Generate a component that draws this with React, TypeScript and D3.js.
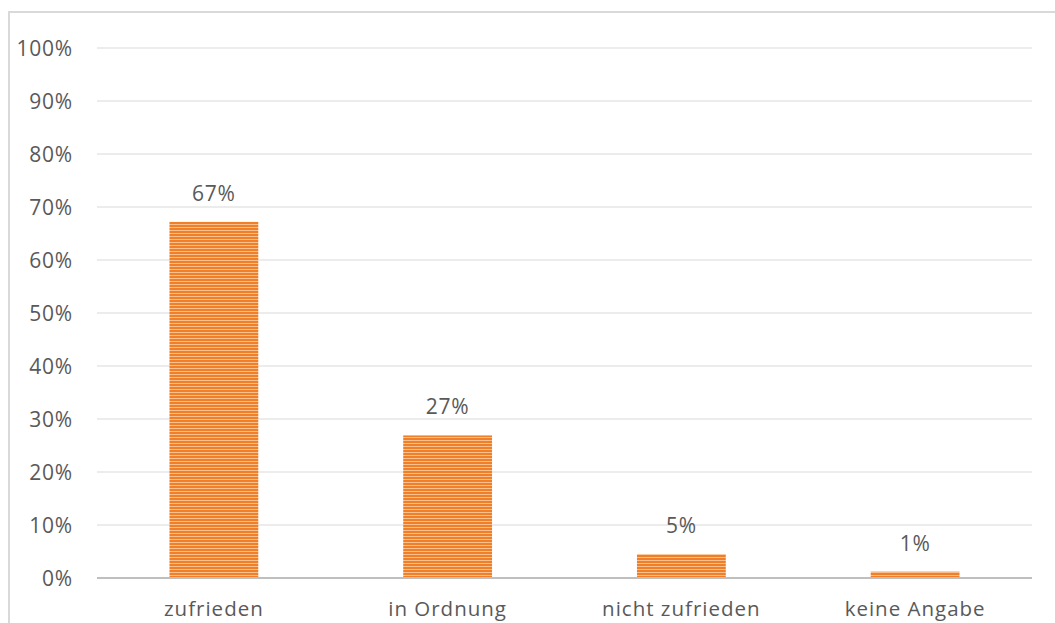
import React from "react";
import * as d3 from "d3";

const categories = ["zufrieden", "in Ordnung", "nicht zufrieden", "keine Angabe"];
const values = [67.2, 26.9, 4.5, 1.2];
const labels = ["67%", "27%", "5%", "1%"];
const yTicks = [0, 10, 20, 30, 40, 50, 60, 70, 80, 90, 100];

export default function App() {
  const W = 1055, H = 623;
  const left = 97, right = 1032, top = 48, bottom = 578;
  const x = d3.scaleBand<string>().domain(categories).range([left, right]).paddingInner(0.62).paddingOuter(0.31);
  const y = d3.scaleLinear().domain([0, 100]).range([bottom, top]);
  const font = "'Open Sans', sans-serif";
  const gray = "#595959";
  return (
    <svg width={W} height={H} style={{ position: "absolute", left: 0, top: 0, background: "#fff" }}>
      <defs>
        <pattern id="stripes" width="6" height="3" patternUnits="userSpaceOnUse">
          <rect width="6" height="3" fill="#F07F2A" />
          <rect y="2" width="6" height="1" fill="#F9C08E" />
        </pattern>
      </defs>
      <rect x={9} y={12} width={W + 20} height={H + 20} fill="#fff" stroke="#d9d9d9" strokeWidth={2} />
      {yTicks.slice(1).map((t) => (
        <line key={t} x1={left} x2={right} y1={y(t)} y2={y(t)} stroke="#d9d9d9" strokeWidth={1} />
      ))}
      {yTicks.map((t) => (
        <text key={"l" + t} x={73} y={y(t)} dy="0.36em" textAnchor="end" fontFamily={font} fontSize={21} fill={gray} letterSpacing={0.8}>
          {t + "%"}
        </text>
      ))}
      {categories.map((c, i) => (
        <g key={c}>
          <rect x={x(c)!} y={y(values[i])} width={x.bandwidth()} height={bottom - y(values[i])} fill="url(#stripes)" />
          <text x={x(c)! + x.bandwidth() / 2} y={y(values[i]) - 21} textAnchor="middle" fontFamily={font} fontSize={21} fill={gray} letterSpacing={0.8}>
            {labels[i]}
          </text>
          <text x={x(c)! + x.bandwidth() / 2} y={616} textAnchor="middle" fontFamily={font} fontSize={20.5} fill={gray} letterSpacing={1}>
            {c}
          </text>
        </g>
      ))}
      <line x1={left} x2={right} y1={bottom} y2={bottom} stroke="#bfbfbf" strokeWidth={2} />
    </svg>
  );
}
